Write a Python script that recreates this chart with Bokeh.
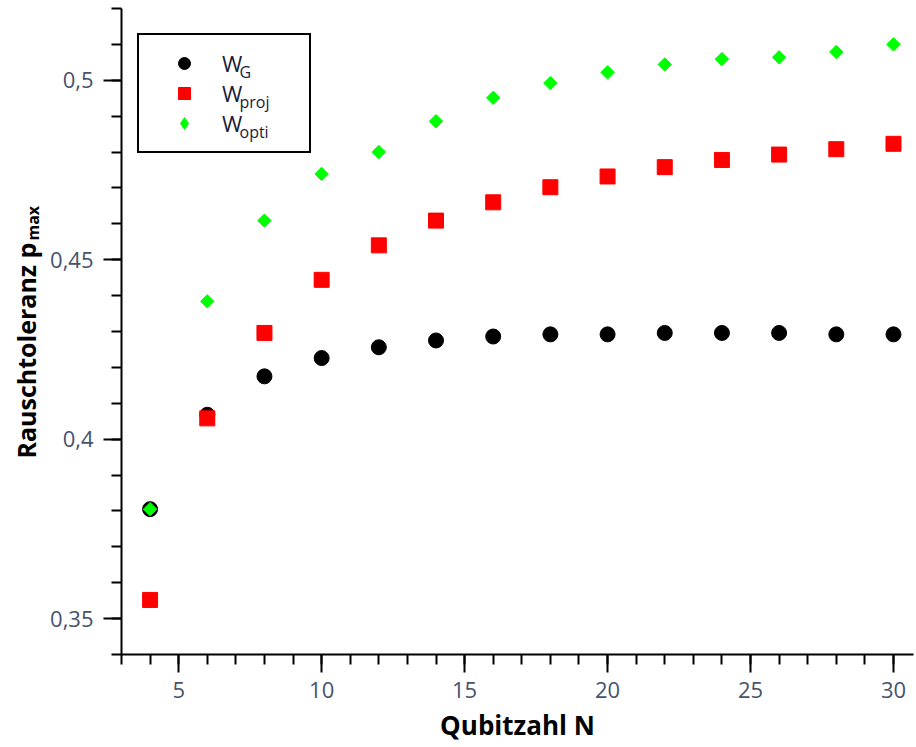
import math
from bokeh.plotting import figure
from bokeh.models import (Range1d, FixedTicker, CustomJSTickFormatter, Legend,
                          LegendItem, ColumnDataSource)
from bokeh.embed import file_html
from bokeh.resources import INLINE
from bokeh.core.properties import value

# ---------------- data ----------------
N = [4, 6, 8, 10, 12, 14, 16, 18, 20, 22, 24, 26, 28, 30]
W_G = [0.3805, 0.4068, 0.4175, 0.4226, 0.4256, 0.4275, 0.4286, 0.4292,
       0.4292, 0.4296, 0.4296, 0.4296, 0.4292, 0.4292]
W_PROJ = [0.3552, 0.4058, 0.4296, 0.4444, 0.4540, 0.4609, 0.4660, 0.4702,
          0.4732, 0.4758, 0.4778, 0.4793, 0.4808, 0.4823]
W_OPTI = [0.3805, 0.4384, 0.4609, 0.4739, 0.4800, 0.4886, 0.4951, 0.4992,
          0.5022, 0.5044, 0.5059, 0.5064, 0.5079, 0.5100]

X_MAJOR = [5, 10, 15, 20, 25, 30]
X_MINOR = list(range(3, 31))
Y_MAJOR = [0.35, 0.40, 0.45, 0.50]
Y_MINOR = [round(0.34 + 0.01 * i, 2) for i in range(19)]

X_TITLE = "Qubitzahl N"
Y_TITLE = "Rauschtoleranz p"
Y_TITLE_SUB = "max"
LEG_MAIN = "W"
LEG_SUBS = ["G", "proj", "opti"]

# ---------------- geometry ----------------
W, H = 916, 747
L, R, T, B = 121, 913, 8, 654
X0, X1 = 3.0, 30.7
Y0, Y1 = 0.34, 0.52


def dx(px):
    return X0 + (px - L) / (R - L) * (X1 - X0)


def dy(py):
    return Y0 + (B - py) / (B - T) * (Y1 - Y0)


FONT = "Open Sans"
TICK_COLOR = "#46536e"
LEG_COLOR = "#1b2138"

p = figure(width=W, height=H, output_backend="svg", toolbar_location=None,
           x_range=Range1d(X0, X1), y_range=Range1d(Y0, Y1),
           min_border_left=L, min_border_right=W - R,
           min_border_top=T, min_border_bottom=H - B)
p.outline_line_color = None
p.xgrid.visible = False
p.ygrid.visible = False
p.background_fill_color = "white"
p.border_fill_color = "white"

for ax in (p.xaxis[0], p.yaxis[0]):
    ax.axis_line_color = "black"
    ax.axis_line_width = 2
    ax.major_tick_line_color = "black"
    ax.major_tick_line_width = 2
    ax.minor_tick_line_color = "black"
    ax.minor_tick_line_width = 2
    ax.major_tick_out = 18
    ax.major_tick_in = 0
    ax.minor_tick_out = 10
    ax.minor_tick_in = 0
    ax.major_label_text_font = FONT
    ax.major_label_text_font_size = "22px"
    ax.major_label_text_color = TICK_COLOR

p.xaxis[0].ticker = FixedTicker(ticks=X_MAJOR, minor_ticks=X_MINOR)
p.yaxis[0].ticker = FixedTicker(ticks=Y_MAJOR, minor_ticks=Y_MINOR)
p.yaxis[0].formatter = CustomJSTickFormatter(
    code="return (Math.round(tick*100)/100).toString().replace('.', ',');")
p.xaxis[0].major_label_standoff = 9
p.yaxis[0].major_label_standoff = 10

p.xaxis[0].axis_label = X_TITLE
p.xaxis[0].axis_label_text_font = FONT
p.xaxis[0].axis_label_text_font_style = "bold"
p.xaxis[0].axis_label_text_font_size = "26px"
p.xaxis[0].axis_label_text_color = "black"
p.xaxis[0].axis_label_standoff = 6

# ---------------- data marks ----------------
src = ColumnDataSource(dict(n=N, g=W_G, pr=W_PROJ, op=W_OPTI))
p.scatter("n", "g", source=src, marker="circle", size=15,
          fill_color="black", line_color="black")
p.scatter("n", "pr", source=src, marker="square", size=15,
          fill_color="#ff0000", line_color="#ff0000")
p.scatter("n", "op", source=src, marker="square", size=9.5,
          angle=math.pi / 4, fill_color="#00ff00", line_color="#00ff00")

# legend-only renderers (a single undrawable NaN point each)
nan = float("nan")
leg_src = ColumnDataSource(dict(x=[nan], y=[nan]))
lg = p.scatter("x", "y", source=leg_src, marker="circle",
               fill_color="black", line_color="black")
lp = p.scatter("x", "y", source=leg_src, marker="square",
               fill_color="#ff0000", line_color="#ff0000")
lo = p.scatter("x", "y", source=leg_src, marker="diamond",
               fill_color="#00ff00", line_color="#00ff00")

legend = Legend(items=[LegendItem(label=LEG_MAIN, renderers=[r]) for r in (lg, lp, lo)],
                location=(137 - L, B - 153), orientation="vertical",
                padding=13, spacing=0, margin=0,
                glyph_width=64, glyph_height=30, label_height=30,
                label_width=74, label_standoff=6,
                label_text_font=FONT, label_text_font_size="22px",
                label_text_color=LEG_COLOR,
                border_line_color="black", border_line_width=2,
                border_line_alpha=1.0,
                background_fill_color="white", background_fill_alpha=0.0)
p.add_layout(legend, "center")

# legend subscripts as a text glyph
sub_src = ColumnDataSource(dict(x=[dx(239)] * 3,
                                y=[dy(71 + 30 * i) for i in range(3)],
                                t=LEG_SUBS))
p.text("x", "y", text="t", source=sub_src, level="overlay",
       text_font=value(FONT), text_font_size="16px", text_color=LEG_COLOR,
       text_align="left", text_baseline="middle")

# y-axis title (outside frame) with subscript
yt_src = ColumnDataSource(dict(x=[dx(25), dx(32)], y=[dy(458), dy(458 - 218)],
                               t=[Y_TITLE, Y_TITLE_SUB],
                               fs=["25px", "16px"]))
p.text("x", "y", text="t", source=yt_src, angle=math.pi / 2, level="overlay",
       text_font=value(FONT), text_font_style="bold", text_font_size="fs",
       text_color="black", text_align="left", text_baseline="middle")

open("out.html", "w").write(file_html(p, INLINE))
